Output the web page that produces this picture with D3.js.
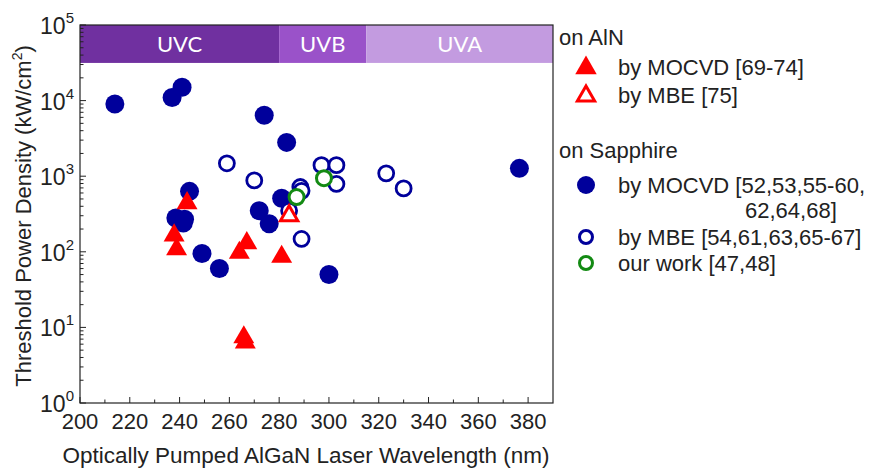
<!DOCTYPE html>
<html>
<head>
<meta charset="utf-8">
<script src="https://cdn.jsdelivr.net/npm/d3@7"></script>
<style>
  body { margin: 0; background: #fff; }
  svg { font-family: "Liberation Sans", Arial, sans-serif; }
</style>
</head>
<body>
<svg id="chart" width="879" height="469"></svg>
<script>
// wavelength (nm), threshold (kW/cm2)
var sapphireMocvd = [
  [214, 9000], [237, 11000], [241, 15000], [274, 6400], [283, 2800],
  [376.5, 1270], [244, 630], [238.5, 280], [242, 270], [241.5, 240],
  [272, 350], [276, 235], [281, 510], [249, 95], [256, 60], [300, 50]
];
var sapphireMbe = [
  [259, 1480], [270, 880], [288.5, 720], [289, 640], [284, 350],
  [289, 148], [297, 1400], [303, 1400], [303, 790], [323, 1090], [330, 690]
];
var ourWork = [[287, 530], [298, 940]];
var alnMocvd = [
  [243, 440], [237.8, 165], [238.8, 108], [267, 130], [264, 97],
  [281, 86], [265.8, 7.4], [266.4, 6.3]
];
var alnMbe = [[284, 300]];

var bands = [
  {name: 'UVC', from: 200, to: 280, color: '#7030a0'},
  {name: 'UVB', from: 280, to: 315, color: '#9a52c9'},
  {name: 'UVA', from: 315, to: 390, color: '#c39be0'}
];
var bandBottom = 31500;

var xTicks = d3.range(200, 381, 20);
var yTicks = [1, 10, 100, 1000, 10000, 100000];

var margin = {left: 80, top: 25, right: 326, bottom: 66};
var svg = d3.select('#chart');
var W = +svg.attr('width'), H = +svg.attr('height');
var w = W - margin.left - margin.right;
var h = H - margin.top - margin.bottom;

var x = d3.scaleLinear().domain([200, 390]).range([0, w]);
var y = d3.scaleLog().domain([1, 100000]).range([h, 0]);

var g = svg.append('g')
  .attr('transform', 'translate(' + margin.left + ',' + margin.top + ')');

// spectral bands
g.selectAll('.band')
  .data(bands)
  .enter().append('rect')
    .attr('x', function(d) { return x(d.from); })
    .attr('width', function(d) { return x(d.to) - x(d.from); })
    .attr('y', y(100000))
    .attr('height', y(bandBottom) - y(100000))
    .attr('fill', function(d) { return d.color; });

g.selectAll('.band-label')
  .data(bands)
  .enter().append('text')
    .attr('x', function(d) { return (x(d.from) + x(d.to)) / 2; })
    .attr('y', (y(bandBottom) + y(100000)) / 2 + 8)
    .attr('text-anchor', 'middle')
    .attr('fill', '#fff')
    .style('font-family', 'Lato, "Open Sans", sans-serif')
    .style('font-size', '22px')
    .text(function(d) { return d.name; });

// x axis ticks (inward)
var xMinor = d3.range(210, 390, 20);
g.selectAll('.xmaj').data(xTicks).enter().append('line')
  .attr('x1', x).attr('x2', x)
  .attr('y1', h).attr('y2', h - 6)
  .attr('stroke', '#222');
g.selectAll('.xmin').data(xMinor).enter().append('line')
  .attr('x1', x).attr('x2', x)
  .attr('y1', h).attr('y2', h - 3.5)
  .attr('stroke', '#222');
g.selectAll('.xlab').data(xTicks).enter().append('text')
  .attr('x', x).attr('y', h + 26)
  .attr('text-anchor', 'middle')
  .style('font-size', '22px')
  .attr('fill', '#222')
  .text(function(d) { return d; });

// y axis ticks (inward)
var yMinor = [];
yTicks.slice(0, -1).forEach(function(t) {
  for (var k = 2; k < 10; k++) yMinor.push(t * k);
});
g.selectAll('.ymaj').data(yTicks).enter().append('line')
  .attr('y1', y).attr('y2', y)
  .attr('x1', 0).attr('x2', 6)
  .attr('stroke', '#222');
g.selectAll('.ymin').data(yMinor).enter().append('line')
  .attr('y1', y).attr('y2', y)
  .attr('x1', 0).attr('x2', 3.5)
  .attr('stroke', '#222');
var ylab = g.selectAll('.ylab').data(yTicks).enter().append('text')
  .attr('x', -6).attr('y', function(d) { return y(d) + 9; })
  .attr('text-anchor', 'end')
  .attr('fill', '#222')
  .style('font-size', '23px');
ylab.append('tspan').text('10');
ylab.append('tspan')
  .attr('dy', -11)
  .style('font-size', '15px')
  .text(function(d) { return Math.round(Math.log10(d)); });

// frame
g.append('rect')
  .attr('width', w).attr('height', h)
  .attr('fill', 'none')
  .attr('stroke', '#222')
  .attr('stroke-width', 1.2);

// marks
var navy = '#00009b';
var red = '#ff0000';
var green = '#138a13';
var tri = d3.symbol().type(d3.symbolTriangle).size(190);

g.selectAll('.smocvd').data(sapphireMocvd).enter().append('circle')
  .attr('cx', function(d) { return x(d[0]); })
  .attr('cy', function(d) { return y(d[1]); })
  .attr('r', 9.5)
  .attr('fill', navy);

g.selectAll('.smbe').data(sapphireMbe).enter().append('circle')
  .attr('cx', function(d) { return x(d[0]); })
  .attr('cy', function(d) { return y(d[1]); })
  .attr('r', 7.5)
  .attr('fill', '#fff')
  .attr('stroke', navy)
  .attr('stroke-width', 2.8);

g.selectAll('.ours').data(ourWork).enter().append('circle')
  .attr('cx', function(d) { return x(d[0]); })
  .attr('cy', function(d) { return y(d[1]); })
  .attr('r', 7.5)
  .attr('fill', '#fff')
  .attr('stroke', green)
  .attr('stroke-width', 3);

g.selectAll('.amocvd').data(alnMocvd).enter().append('path')
  .attr('d', tri)
  .attr('transform', function(d) { return 'translate(' + x(d[0]) + ',' + y(d[1]) + ')'; })
  .attr('fill', red);

g.selectAll('.ambe').data(alnMbe).enter().append('path')
  .attr('d', d3.symbol().type(d3.symbolTriangle).size(130))
  .attr('transform', function(d) { return 'translate(' + x(d[0]) + ',' + y(d[1]) + ')'; })
  .attr('fill', '#fff')
  .attr('stroke', red)
  .attr('stroke-width', 3);

// axis titles
svg.append('text')
  .attr('x', 306)
  .attr('y', H - 6)
  .attr('text-anchor', 'middle')
  .attr('fill', '#222')
  .style('font-size', '22.5px')
  .text('Optically Pumped AlGaN Laser Wavelength (nm)');

var yt = svg.append('text')
  .attr('transform', 'translate(31,' + (margin.top + h / 2 + 2) + ') rotate(-90)')
  .attr('text-anchor', 'middle')
  .attr('fill', '#222')
  .style('font-size', '22px');
yt.append('tspan').text('Threshold Power Density (kW/cm');
yt.append('tspan').attr('dy', -9).style('font-size', '14px').text('2');
yt.append('tspan').attr('dy', 9).text(')');

// legend
var lg = svg.append('g').attr('transform', 'translate(559,0)');
var legendFont = '22px';
lg.append('text').attr('x', 0).attr('y', 45).style('font-size', legendFont).attr('fill', '#222').text('on AlN');
lg.append('text').attr('x', 0).attr('y', 158).style('font-size', legendFont).attr('fill', '#222').text('on Sapphire');

var items = [
  {y: 67, label: 'by MOCVD [69-74]', kind: 'triFill'},
  {y: 95, label: 'by MBE [75]', kind: 'triOpen'},
  {y: 185, label: 'by MOCVD [52,53,55-60,', kind: 'dot'},
  {y: 237, label: 'by MBE [54,61,63,65-67]', kind: 'ring'},
  {y: 263, label: 'our work [47,48]', kind: 'ringGreen'}
];
var it = lg.selectAll('.item').data(items).enter().append('g')
  .attr('transform', function(d) { return 'translate(0,' + d.y + ')'; });
it.append('text')
  .attr('x', 59).attr('y', 8)
  .attr('fill', '#222')
  .style('font-size', legendFont)
  .text(function(d) { return d.label; });
it.each(function(d) {
  var s = d3.select(this);
  if (d.kind === 'triFill') {
    s.append('path').attr('d', d3.symbol().type(d3.symbolTriangle).size(200))
      .attr('transform', 'translate(27,1)').attr('fill', red);
  } else if (d.kind === 'triOpen') {
    s.append('path').attr('d', d3.symbol().type(d3.symbolTriangle).size(130))
      .attr('transform', 'translate(27,1)').attr('fill', 'none')
      .attr('stroke', red).attr('stroke-width', 3);
  } else if (d.kind === 'dot') {
    s.append('circle').attr('cx', 27).attr('cy', 0).attr('r', 9).attr('fill', navy);
  } else {
    s.append('circle').attr('cx', 27).attr('cy', 0).attr('r', 6.5)
      .attr('fill', 'none')
      .attr('stroke', d.kind === 'ring' ? navy : green)
      .attr('stroke-width', 3);
  }
});
lg.append('text').attr('x', 186).attr('y', 218)
  .style('font-size', legendFont).attr('fill', '#222').text('62,64,68]');
</script>
</body>
</html>
